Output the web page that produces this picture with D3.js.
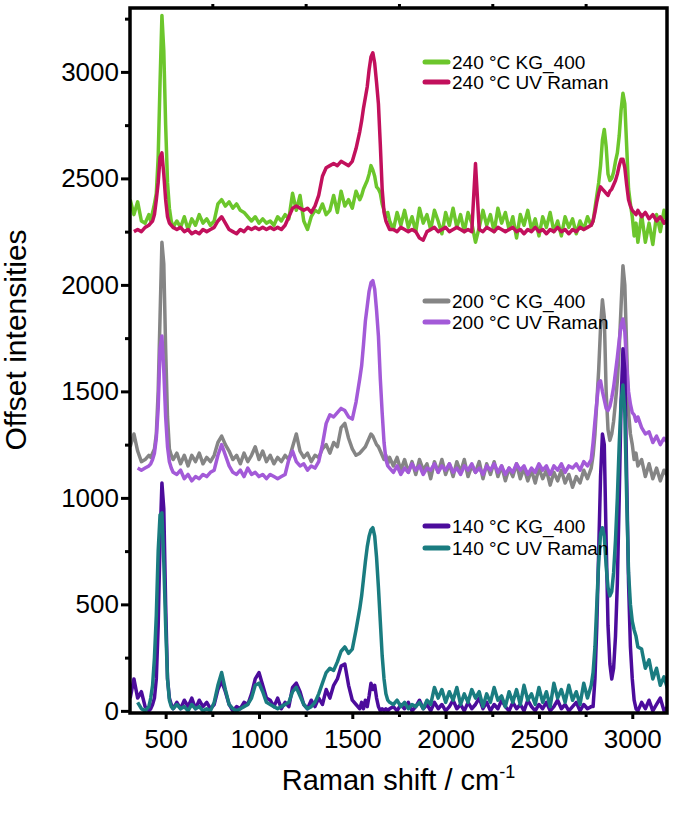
<!DOCTYPE html>
<html>
<head>
<meta charset="utf-8">
<script src="https://cdn.jsdelivr.net/npm/d3@7"></script>
<style>
  body { margin: 0; background: #fff; }
  text { font-family: "Liberation Sans", Arial, sans-serif; fill: #000; }
</style>
</head>
<body>
<div id="chart"></div>
<script>
// Raman shift grid (cm-1), denser around the peaks
const shift = [
  310, 330, 350, 370, 390, 410,
  420, 430, 440, 450, 460, 470, 480, 490, 500, 510, 520, 530, 540,
  560, 580, 600, 620, 640, 660, 680, 700, 720, 740, 760, 780, 800, 820, 840, 860, 880, 900, 920, 940,
  960, 980, 1000, 1020, 1040, 1060, 1080, 1100, 1120, 1140, 1160, 1180, 1200, 1220, 1240, 1260, 1280, 1300, 1320, 1340,
  1360, 1380, 1400, 1420, 1440, 1460, 1480, 1500, 1520, 1540,
  1550, 1560, 1570, 1580, 1590, 1600, 1610, 1620, 1630, 1640, 1650, 1660, 1670, 1680, 1690, 1700,
  1720, 1740, 1760, 1780, 1800, 1820, 1840, 1860, 1880, 1900, 1920, 1940, 1960, 1980, 2000, 2020, 2040, 2060, 2080, 2100,
  2120, 2140, 2160, 2180, 2200, 2220, 2240, 2260, 2280, 2300, 2320, 2340, 2360, 2380, 2400, 2420, 2440, 2460, 2480, 2500,
  2520, 2540, 2560, 2580, 2600, 2620, 2640, 2660, 2680, 2700, 2720, 2740, 2760, 2780,
  2790, 2800, 2810, 2820, 2830, 2840, 2850, 2860, 2870, 2880, 2890, 2900, 2910, 2920, 2930, 2940, 2950, 2960, 2970, 2980,
  2990, 3000, 3010, 3020, 3030,
  3050, 3070, 3090, 3110, 3130, 3150, 3170, 3190
];

const kg240 = [
  2400, 2330, 2390, 2300, 2290, 2330,
  2300, 2340, 2380, 2430, 2600, 2950, 3265, 3100, 2750, 2480, 2360, 2300, 2270,
  2300, 2270, 2320, 2260, 2310, 2280, 2330, 2290, 2310, 2280, 2300, 2380, 2400, 2370, 2390, 2360, 2380, 2350, 2340, 2320,
  2300, 2320, 2290, 2310, 2290, 2300, 2280, 2320, 2300, 2330, 2310, 2430, 2350, 2420, 2300, 2260, 2320, 2350, 2340, 2380,
  2330, 2350, 2420, 2340, 2440, 2370, 2400, 2360, 2440, 2400,
  2420, 2450, 2470, 2490, 2520, 2560, 2540, 2510, 2460, 2450, 2430, 2380, 2350, 2320, 2340, 2300,
  2260, 2340, 2280, 2350, 2270, 2320, 2250, 2360, 2290, 2330, 2260, 2350, 2300, 2240, 2340, 2280, 2360, 2270, 2330, 2250,
  2340, 2290, 2200, 2270, 2350, 2280, 2330, 2250, 2360, 2290, 2340, 2260, 2320, 2220, 2330, 2280, 2350, 2260, 2310, 2230,
  2320, 2270, 2340, 2250, 2300, 2230, 2320, 2270, 2310, 2240, 2300, 2260, 2320, 2280,
  2300, 2360, 2420, 2480, 2560, 2680, 2730, 2650, 2520, 2490, 2500, 2530, 2580, 2620, 2700, 2820, 2900, 2850, 2650, 2450,
  2380, 2320, 2230, 2290, 2200,
  2330, 2200, 2290, 2190, 2330, 2250, 2350, 2280
];

const uv240 = [
  null, 2250, 2260, 2250, 2270, 2280,
  2290, 2300, 2330, 2400, 2480, 2600, 2620, 2520, 2400, 2320, 2290, 2280, 2270,
  2260, 2270, 2250, 2260, 2240, 2250, 2240, 2260, 2250, 2260, 2270, 2300, 2320, 2290, 2260, 2250, 2240, 2260, 2250, 2270,
  2260, 2270, 2260, 2270, 2260, 2270, 2260, 2270, 2260, 2280, 2320, 2360, 2370, 2360, 2350, 2360, 2340, 2370, 2420, 2510,
  2550, 2560, 2570, 2560, 2580, 2570, 2560, 2580, 2640, 2720,
  2770, 2830, 2880, 2930, 3010, 3070, 3090, 3040, 2950, 2850, 2660, 2450, 2340, 2300, 2280, 2260,
  2260, 2250, 2270, 2260, 2250, 2260, 2250, 2220, 2210, 2250, 2260, 2270, 2250, 2260, 2270, 2250, 2260, 2270, 2260, 2250,
  2260, 2250, 2570, 2260, 2250, 2270, 2260, 2250, 2270, 2260, 2250, 2260, 2270, 2250, 2260, 2240, 2260, 2250, 2270, 2250,
  2260, 2240, 2260, 2250, 2270, 2250, 2260, 2240, 2260, 2250, 2270, 2260, 2270, 2280,
  2300, 2340, 2390, 2430, 2460, 2450, 2440, 2430, 2420, 2440, 2450, 2470, 2490, 2520, 2560, 2590, 2590, 2550, 2470, 2400,
  2370, 2350, 2340, 2330, 2350,
  2320, 2340, 2310, 2330, 2300, 2320, 2290, 2310
];

const kg200 = [
  1240, 1300, 1220, 1170, 1180, 1200,
  1190, 1210, 1230, 1300, 1500, 1850, 2200, 2100, 1700, 1380, 1230, 1200, 1180,
  1210, 1160, 1200, 1150, 1200, 1170, 1210, 1160, 1190, 1170, 1200, 1260, 1290, 1250, 1220, 1180, 1200, 1160, 1210, 1170,
  1200, 1240, 1180, 1220, 1170, 1200, 1160, 1190, 1170, 1200, 1180, 1240, 1300, 1220, 1190, 1210, 1170, 1200, 1190, 1230,
  1250, 1210, 1260, 1240, 1330, 1350, 1280, 1230, 1200, 1210,
  1220, 1230, 1240, 1260, 1280, 1300, 1290, 1270, 1250, 1240, 1220, 1200, 1180, 1200, 1160, 1190,
  1150, 1190, 1130, 1180, 1120, 1170, 1110, 1180, 1130, 1160, 1090, 1170, 1120, 1180, 1110, 1160, 1100, 1170, 1120, 1180,
  1100, 1150, 1120, 1170, 1090, 1160, 1110, 1170, 1100, 1150, 1080, 1140, 1100, 1160, 1090, 1140, 1080, 1130, 1070, 1140,
  1090, 1130, 1060, 1120, 1080, 1130, 1070, 1110, 1050, 1100, 1070, 1130, 1090, 1140,
  1200, 1300, 1450, 1600, 1800, 1930, 1850, 1500, 1320, 1270, 1300, 1360, 1450, 1550, 1700, 1900, 2090, 2000, 1700, 1400,
  1300, 1250, 1180, 1210, 1150,
  1180, 1100, 1160, 1090, 1140, 1080, 1130, 1100
];

const uv200 = [
  null, null, 1140, 1130, 1140, 1150,
  1160, 1180, 1210, 1280, 1420, 1700, 1760, 1600, 1380, 1240, 1170, 1140, 1120,
  1110, 1130, 1090, 1110, 1080, 1100, 1090, 1110, 1100, 1120, 1130, 1200, 1250, 1200, 1150, 1120, 1110, 1130, 1100, 1140,
  1110, 1120, 1100, 1110, 1090, 1110, 1100, 1090, 1100, 1110, 1180, 1220, 1170, 1150, 1160, 1130, 1150, 1140, 1170, 1250,
  1350, 1390, 1380, 1400, 1420, 1410, 1380, 1370, 1450, 1560,
  1620, 1720, 1830, 1900, 1970, 2010, 2020, 1980, 1880, 1760, 1560, 1400, 1260, 1180, 1150, 1140,
  1120, 1150, 1110, 1140, 1120, 1160, 1130, 1150, 1110, 1140, 1130, 1160, 1120, 1150, 1130, 1160, 1120, 1140, 1110, 1150,
  1130, 1160, 1120, 1140, 1110, 1150, 1130, 1160, 1120, 1150, 1110, 1140, 1120, 1160, 1130, 1150, 1110, 1140, 1120, 1160,
  1130, 1150, 1110, 1150, 1130, 1160, 1120, 1150, 1140, 1160, 1130, 1170, 1150, 1180,
  1260, 1360, 1450, 1540, 1550, 1500, 1460, 1420, 1410, 1430, 1470, 1520, 1590, 1660, 1740, 1810, 1840, 1780, 1620, 1500,
  1440, 1400, 1390, 1360, 1380,
  1330, 1300, 1310, 1260, 1290, 1250, 1280, 1260
];

const kg140 = [
  60, 150, 60, 90, 20, 0,
  10, 30, 60, 150, 400, 800, 1070, 950, 500, 150, 60, 30, 10,
  40, 10, 50, 20, 60, 10, 50, 20, 40, 10, 30, 100, 140, 90, 30, 0, 20, 10, 40, 30,
  80, 150, 180, 120, 60, 50, 20, 60, 10, 40, 20, 110, 130, 90, 30, 10, 50, 20, 60, 30,
  100, 60, 120, 150, 210, 220, 120, 50, 30, 10,
  40, 10, 50, 20, 70, 130, 100, 120, 60, 20, 0, 10, 0, 10, 0, 10,
  20, 0, 30, 10, 40, 0, 20, 50, 10, 30, 0, 40, 10, 30, 0, 20, 50, 10, 30, 0,
  40, 10, 30, 60, 10, 40, 0, 30, 10, 50, 20, 0, 40, 10, 30, 0, 50, 20, 0, 30,
  10, 40, 0, 20, 50, 10, 30, 0, 20, 40, 0, 30, 10, 20,
  20, 150, 400, 750, 1100, 1300, 1250, 800, 400, 220, 150, 200, 350, 600, 1000, 1450, 1700, 1600, 1100, 600,
  300, 150, 50, 10, 0,
  40, 10, 50, 0, 30, 60, 0, 20
];

const uv140 = [
  null, null, 40, 10, 0, 20,
  60, 120, 250, 450, 750, 920, 930, 700, 400, 150, 50, 20, 10,
  30, 10, 20, 0, 30, 10, 20, 0, 10, 0, 40, 120, 180, 100, 30, 10, 0, 10, 20, 30,
  60, 120, 130, 90, 40, 30, 20, 10, 20, 30, 40, 90, 110, 70, 30, 10, 20, 40, 80, 130,
  180, 200, 190, 230, 280, 300, 270, 290, 380, 480,
  540, 620, 700, 770, 820, 850, 860, 820, 720, 580, 420, 260, 150, 80, 50, 40,
  30, 50, 20, 40, 10, 30, 20, 40, 10, 50, 30, 110, 60, 100, 40, 90, 50, 110, 30, 80,
  40, 100, 60, 90, 20, 80, 40, 110, 50, 70, 20, 90, 40, 100, 30, 120, 50, 80, 30, 110,
  40, 90, 20, 130, 60, 100, 40, 120, 50, 90, 30, 130, 60, 120,
  180, 300, 500, 700, 830, 860, 820, 680, 580, 540, 560, 650, 800, 1000, 1250, 1450, 1530, 1400, 1000, 650,
  500, 420, 380, 350, 300,
  290, 200, 240, 150, 200, 120, 160, 100
];

const seriesNames = ["240 °C KG_400", "240 °C UV Raman", "200 °C KG_400", "200 °C UV Raman", "140 °C KG_400", "140 °C UV Raman"];
const seriesValues = [kg240, uv240, kg200, uv200, kg140, uv140];
const seriesColors = ["#6cc62c", "#c2105c", "#858585", "#a35ad8", "#4c0c9c", "#1a7c80"];

const yMajor = [0, 500, 1000, 1500, 2000, 2500, 3000];
const yMinor = [250, 750, 1250, 1750, 2250, 2750, 3250];
const xMajor = [500, 1000, 1500, 2000, 2500, 3000];
const xMinor = [750, 1250, 1750, 2250, 2750];

seriesValues.forEach((s, i) => {
  if (s.length !== shift.length) throw new Error(seriesNames[i] + " length " + s.length + " vs " + shift.length);
});

const width = 675, height = 813;
const margin = { top: 8, right: 8, bottom: 100, left: 130 };
const innerW = width - margin.left - margin.right;
const innerH = height - margin.top - margin.bottom;

const svg = d3.select("#chart").append("svg")
  .attr("width", width)
  .attr("height", height);

const g = svg.append("g")
  .attr("transform", `translate(${margin.left},${margin.top})`);

const x = d3.scaleLinear().domain([309, 3186]).range([0, innerW]);
const y = d3.scaleLinear().domain([-10, 3300]).range([innerH, 0]);

svg.append("defs").append("clipPath").attr("id", "clip")
  .append("rect").attr("width", innerW).attr("height", innerH);

const line = d3.line()
  .defined(d => d[1] != null)
  .x(d => x(d[0]))
  .y(d => y(d[1]));

const plot = g.append("g").attr("clip-path", "url(#clip)");
seriesValues.forEach((vals, i) => {
  plot.append("path")
    .datum(shift.map((s, j) => [s, vals[j]]))
    .attr("fill", "none")
    .attr("stroke", seriesColors[i])
    .attr("stroke-width", 3.5)
    .attr("stroke-linejoin", "round")
    .attr("d", line);
});

// axes
const fmt = d3.format("d");
g.append("g")
  .call(d3.axisLeft(y).tickValues(yMajor).tickSize(9).tickPadding(2).tickFormat(fmt));
g.append("g")
  .call(d3.axisLeft(y).tickValues(yMinor).tickSize(5).tickFormat(""));
g.append("g")
  .attr("transform", `translate(0,${innerH})`)
  .call(d3.axisBottom(x).tickValues(xMajor).tickSize(6).tickPadding(11).tickFormat(fmt));
g.append("g")
  .attr("transform", `translate(0,${innerH})`)
  .call(d3.axisBottom(x).tickValues(xMinor).tickSize(4).tickFormat(""));
g.append("g")
  .call(d3.axisTop(x).tickValues(xMinor).tickSize(4).tickFormat(""));

g.selectAll(".domain").remove();
g.selectAll(".tick line").attr("stroke", "#000").attr("stroke-width", 3);
g.selectAll(".tick text")
  .style("font-size", "26px")
  .style("font-family", "'Liberation Sans', Arial, sans-serif");

g.append("rect")
  .attr("width", innerW)
  .attr("height", innerH)
  .attr("fill", "none")
  .attr("stroke", "#000")
  .attr("stroke-width", 3.5);

// axis titles
const xTitle = svg.append("text")
  .attr("x", margin.left + innerW / 2)
  .attr("y", 790)
  .attr("text-anchor", "middle")
  .style("font-size", "29px")
  .text("Raman shift / cm");
xTitle.append("tspan")
  .attr("dy", -12)
  .style("font-size", "18px")
  .text("-1");

svg.append("text")
  .attr("transform", "translate(26,340) rotate(-90)")
  .attr("text-anchor", "middle")
  .style("font-size", "30px")
  .text("Offset intensities");

// legends, one per temperature group
const legendRows = [
  { y: 62, i: 0 }, { y: 82, i: 1 },
  { y: 301, i: 2 }, { y: 322, i: 3 },
  { y: 526, i: 4 }, { y: 548, i: 5 }
];
legendRows.forEach(r => {
  svg.append("line")
    .attr("x1", 425).attr("x2", 448)
    .attr("y1", r.y).attr("y2", r.y)
    .attr("stroke", seriesColors[r.i])
    .attr("stroke-width", 5)
    .attr("stroke-linecap", "round");
  svg.append("text")
    .attr("x", 452)
    .attr("y", r.y + 7)
    .style("font-size", "19px")
    .text(seriesNames[r.i]);
});
</script>
</body>
</html>
